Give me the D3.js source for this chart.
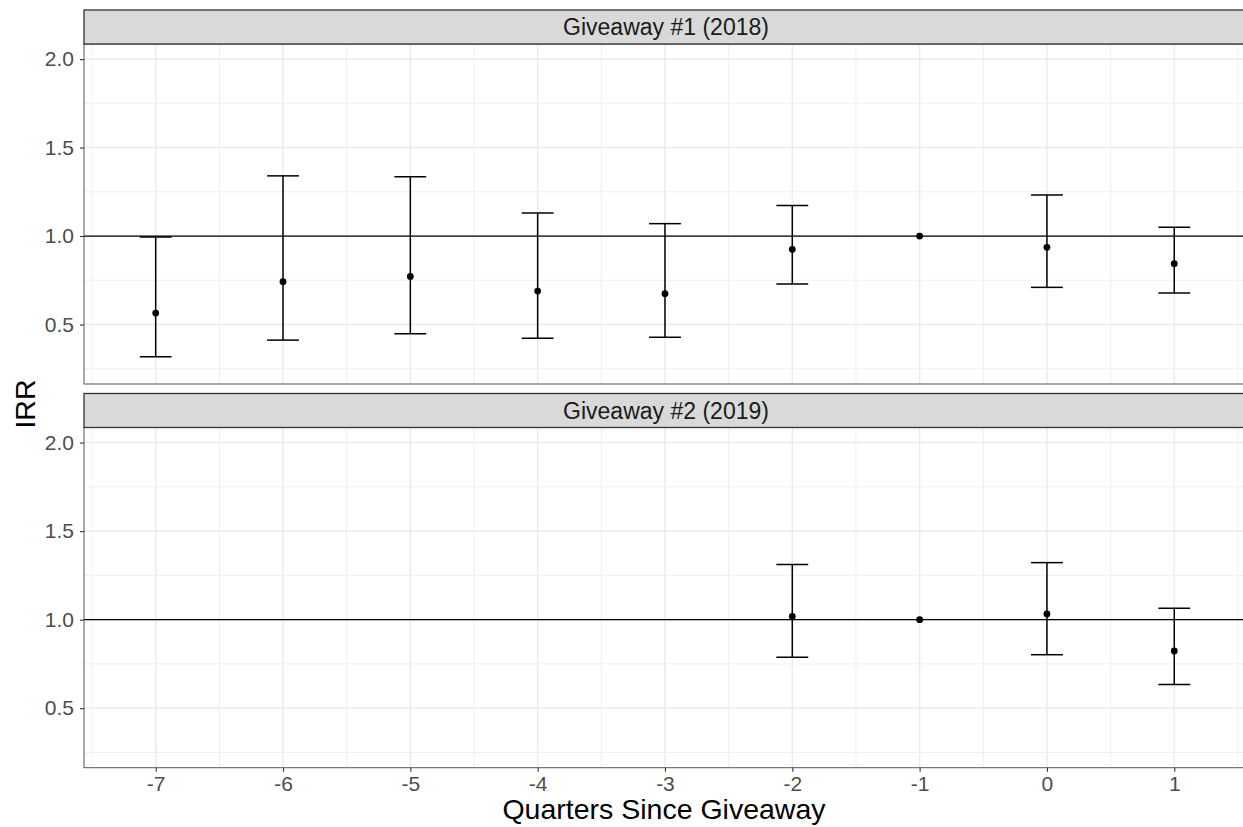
<!DOCTYPE html>
<html><head><meta charset="utf-8">
<script src="https://cdn.jsdelivr.net/npm/d3@7/dist/d3.min.js"></script>
<style>
html,body{margin:0;padding:0;background:#fff;}
svg{display:block;font-family:"Liberation Sans",Arial,sans-serif;}
</style></head>
<body>
<svg id="chart" width="1243" height="827"></svg>
<script>
// ---- data ----
const quarters1 = [-7, -6, -5, -4, -3, -2, -1, 0, 1];
const irr1      = [0.565, 0.742, 0.772, 0.689, 0.674, 0.925, 1.0, 0.936, 0.844];
const lower1    = [0.318, 0.412, 0.448, 0.422, 0.428, 0.729, null, 0.710, 0.678];
const upper1    = [0.995, 1.340, 1.335, 1.130, 1.070, 1.173, null, 1.232, 1.049];

const quarters2 = [-2, -1, 0, 1];
const irr2      = [1.019, 1.0, 1.032, 0.823];
const lower2    = [0.787, null, 0.802, 0.634];
const upper2    = [1.311, null, 1.322, 1.064];

const panelTitles = ["Giveaway #1 (2018)", "Giveaway #2 (2019)"];
const xTicks = [-7, -6, -5, -4, -3, -2, -1, 0, 1];
const yTicks = [0.5, 1.0, 1.5, 2.0];
const yMinor = [0.25, 0.75, 1.25, 1.75];
const xMinor = [-7.5, -6.5, -5.5, -4.5, -3.5, -2.5, -1.5, -0.5, 0.5, 1.5];
const refValue = 1.0;

// ---- layout ----
const svg = d3.select("#chart");
const left = 84, right = 1242;
const x = d3.scaleLinear().domain([-7.563, 1.532]).range([left, right]);
const panels = [
  {title: panelTitles[0], stripTop: 10, top: 44, bottom: 384,
   data: quarters1.map((q,i)=>({q, v: irr1[i], lo: lower1[i], hi: upper1[i]}))},
  {title: panelTitles[1], stripTop: 393.5, top: 427.5, bottom: 767.7,
   data: quarters2.map((q,i)=>({q, v: irr2[i], lo: lower2[i], hi: upper2[i]}))}
];
const capHalf = 0.125;
const FONT = "Liberation Sans, Arial, sans-serif";

panels.forEach((p, pi) => {
  const y = d3.scaleLinear().domain([0.164, 2.085]).range([p.bottom, p.top]);
  const g = svg.append("g");
  g.append("rect").attr("x", left).attr("y", p.top).attr("width", 1260 - left)
    .attr("height", p.bottom - p.top).attr("fill", "#fff");
  // minor grid
  g.selectAll(".ym").data(yMinor).join("line")
    .attr("x1", left).attr("x2", 1260).attr("y1", d=>y(d)).attr("y2", d=>y(d))
    .attr("stroke", "#EDEDED").attr("stroke-width", 0.9);
  g.selectAll(".xm").data(xMinor).join("line")
    .attr("y1", p.top).attr("y2", p.bottom).attr("x1", d=>x(d)).attr("x2", d=>x(d))
    .attr("stroke", "#EDEDED").attr("stroke-width", 0.9);
  // major grid
  g.selectAll(".yM").data(yTicks).join("line")
    .attr("x1", left).attr("x2", 1260).attr("y1", d=>y(d)).attr("y2", d=>y(d))
    .attr("stroke", "#EBEBEB").attr("stroke-width", 1.5);
  g.selectAll(".xM").data(xTicks).join("line")
    .attr("y1", p.top).attr("y2", p.bottom).attr("x1", d=>x(d)).attr("x2", d=>x(d))
    .attr("stroke", "#EBEBEB").attr("stroke-width", 1.5);
  // reference line
  g.append("line").attr("x1", left).attr("x2", 1260)
    .attr("y1", y(refValue)).attr("y2", y(refValue))
    .attr("stroke", "#000").attr("stroke-width", 1.3);
  // error bars
  const eb = p.data.filter(d => d.lo != null);
  g.selectAll(".ebv").data(eb).join("line")
    .attr("x1", d=>x(d.q)).attr("x2", d=>x(d.q)).attr("y1", d=>y(d.lo)).attr("y2", d=>y(d.hi))
    .attr("stroke", "#000").attr("stroke-width", 1.5);
  g.selectAll(".ebl").data(eb).join("line")
    .attr("x1", d=>x(d.q - capHalf)).attr("x2", d=>x(d.q + capHalf)).attr("y1", d=>y(d.lo)).attr("y2", d=>y(d.lo))
    .attr("stroke", "#000").attr("stroke-width", 1.5);
  g.selectAll(".ebh").data(eb).join("line")
    .attr("x1", d=>x(d.q - capHalf)).attr("x2", d=>x(d.q + capHalf)).attr("y1", d=>y(d.hi)).attr("y2", d=>y(d.hi))
    .attr("stroke", "#000").attr("stroke-width", 1.5);
  // points
  g.selectAll(".pt").data(p.data).join("circle")
    .attr("cx", d=>x(d.q)).attr("cy", d=>y(d.v)).attr("r", 3.4).attr("fill", "#000");
  // panel border
  g.append("rect").attr("x", left).attr("y", p.top).attr("width", 1260 - left)
    .attr("height", p.bottom - p.top).attr("fill", "none").attr("stroke", "#555").attr("stroke-width", 1);
  // strip
  g.append("rect").attr("x", left).attr("y", p.stripTop).attr("width", 1260 - left)
    .attr("height", p.top - p.stripTop).attr("fill", "#D9D9D9").attr("stroke", "#333").attr("stroke-width", 1.3);
  g.append("text").attr("x", 666).attr("y", (p.stripTop + p.top)/2 + 8.3)
    .attr("text-anchor", "middle").attr("font-size", 23).attr("fill", "#1A1A1A").text(p.title);
  // y axis
  const ya = g.append("g").attr("transform", `translate(${left},0)`)
    .call(d3.axisLeft(y).tickValues(yTicks).tickFormat(d3.format(".1f")).tickSize(4).tickPadding(6));
  ya.select(".domain").remove();
  ya.selectAll(".tick line").attr("stroke", "#333").attr("stroke-width", 1.1);
  ya.selectAll(".tick text").attr("font-size", 21).attr("fill", "#4D4D4D").attr("font-family", FONT);
  if (pi === 1) {
    const xa = g.append("g").attr("transform", `translate(0,${p.bottom})`)
      .call(d3.axisBottom(x).tickValues(xTicks).tickFormat(d => String(d)).tickSize(4).tickPadding(4));
    xa.select(".domain").remove();
    xa.selectAll(".tick line").attr("stroke", "#333").attr("stroke-width", 1.1);
    xa.selectAll(".tick text").attr("font-size", 21).attr("fill", "#4D4D4D").attr("font-family", FONT);
  }
});

// axis titles
svg.append("text").attr("x", 664).attr("y", 819).attr("text-anchor", "middle")
  .attr("font-size", 28.5).attr("fill", "#000").text("Quarters Since Giveaway");
svg.append("text").attr("transform", "translate(35,404) rotate(-90)").attr("text-anchor", "middle")
  .attr("font-size", 28.5).attr("fill", "#000").text("IRR");
</script>
</body></html>
